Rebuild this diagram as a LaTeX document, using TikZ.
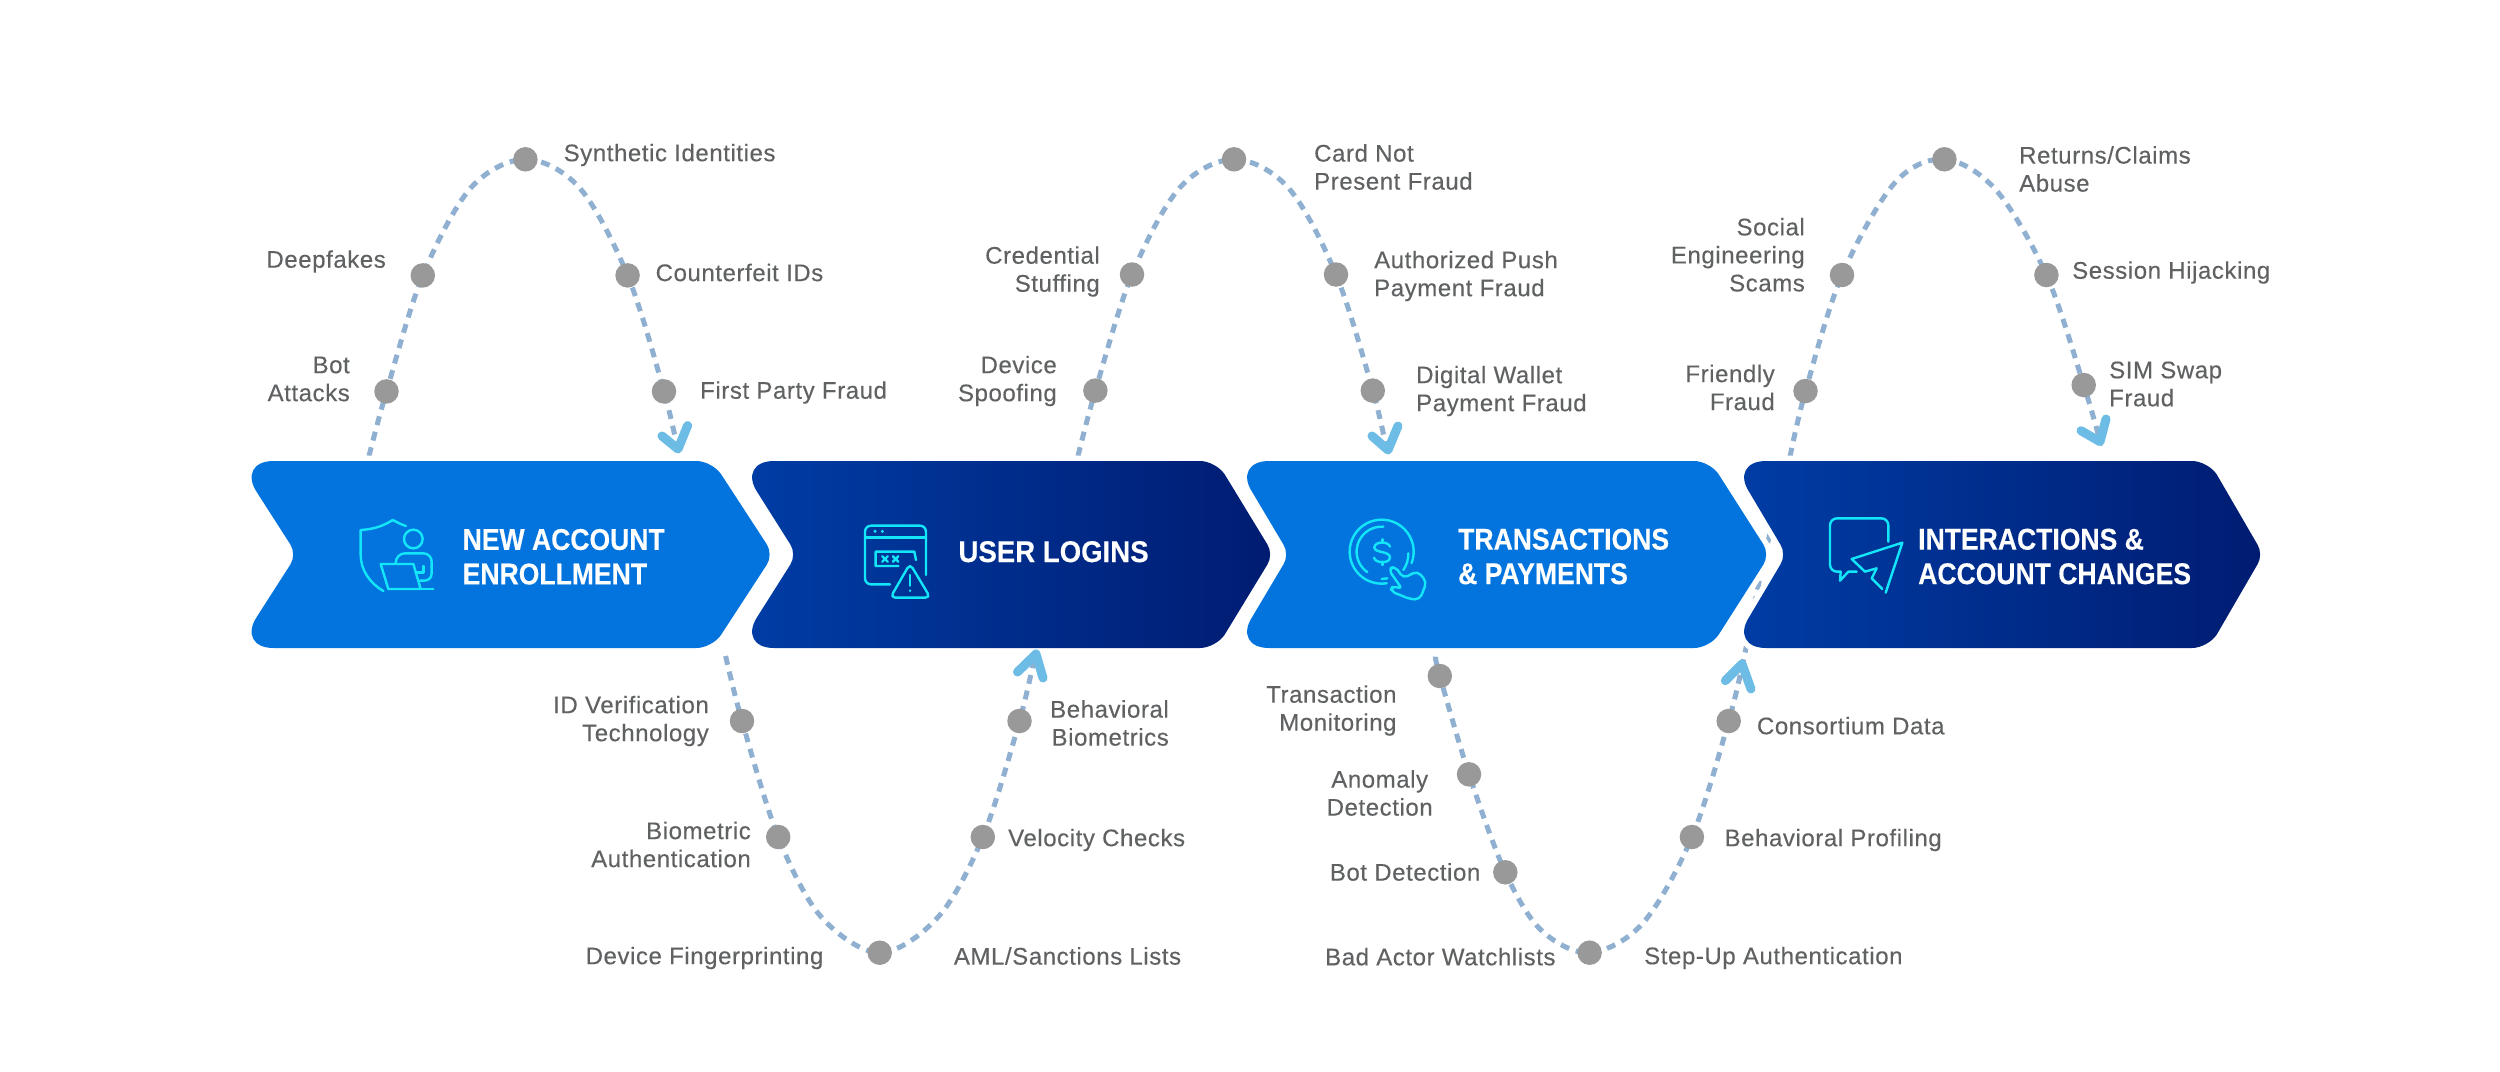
\documentclass[tikz,border=0pt]{standalone}
\usepackage{fontspec}
\usetikzlibrary{backgrounds}
\newfontfamily\lblfont{Liberation Sans}[FakeBold=0.25,LetterSpace=2.4]
\newfontfamily\hdfont{Liberation Sans Bold}[FakeStretch=0.885,FakeBold=0.2]
\newfontfamily\hdwide{Liberation Sans Bold}[FakeStretch=0.92,FakeBold=0.2]
\definecolor{txtgray}{HTML}{5F6163}
\definecolor{dotgray}{HTML}{999999}
\definecolor{dashblue}{HTML}{8FB0D0}
\definecolor{arrowblue}{HTML}{6CBCE6}
\definecolor{chevblue}{HTML}{0374DD}
\definecolor{navyl}{HTML}{003DA5}
\definecolor{navyr}{HTML}{001C72}
\definecolor{iconcyan}{HTML}{14E6FA}
\tikzset{
  dotn/.style={circle,fill=dotgray,minimum size=24.5pt,inner sep=0pt},
  lbl/.style={font=\lblfont\fontsize{24}{28}\selectfont,text=txtgray,inner sep=0pt},
  lbll/.style={lbl,anchor=west,align=left},
  lblr/.style={lbl,anchor=east,align=right},
  lblc/.style={lbl,anchor=center,align=center},
  hd/.style={font=\hdfont\fontsize{30}{34.5}\selectfont,text=white,inner sep=0pt,anchor=west,align=left},
  dashcurve/.style={draw=dashblue,line width=5pt,dash pattern=on 9pt off 7pt},
  arrowv/.style={draw=arrowblue,line width=9pt,line cap=round,line join=round},
  iconline/.style={draw=iconcyan,line width=2.4pt,line cap=round,line join=round},
  halo/.style={draw=white,line width=11pt}
}
% #1 top-left corner x, #2 notch x, #3 shoulder x, #4 tip x
\newcommand{\chevpath}[4]{(#1+37,461) -- (#3-16,461)
  .. controls (#3-7.2,461) and (#3+3.9,467) .. (#3+8.7,474.4)
  -- (#4-6.6,544.5) .. controls (#4-3,550) and (#4-3,559) .. (#4-6.6,564.5)
  -- (#3+8.7,634.6) .. controls (#3+3.9,642) and (#3-7.2,648) .. (#3-16,648)
  -- (#1+37,648) .. controls (#1+16.7,648) and (#1+9.1,634.1) .. (#1+20.2,617)
  -- (#2-6.6,564.5) .. controls (#2-3,559) and (#2-3,550) .. (#2-6.6,544.5)
  -- (#1+20.2,492) .. controls (#1+9.1,474.9) and (#1+16.7,461) .. (#1+37,461) -- cycle}
\begin{document}
\begin{tikzpicture}[x=1pt,y=-1pt]
\useasboundingbox (0,0) rectangle (2500,1071);

% ---- dots
\node[dotn] (a1) at (386.5,391.4) {};
\node[dotn] (a2) at (422.8,275.4) {};
\node[dotn] (a3) at (525.4,159.3) {};
\node[dotn] (a4) at (627.6,275.4) {};
\node[dotn] (a5) at (664,391.4) {};

\node[dotn] (b1) at (742,721) {};
\node[dotn] (b2) at (778.2,837) {};
\node[dotn] (b3) at (879.7,952.7) {};
\node[dotn] (b4) at (982.8,837) {};
\node[dotn] (b5) at (1019.5,721) {};

\node[dotn] (c1) at (1095.4,390.6) {};
\node[dotn] (c2) at (1132,274.5) {};
\node[dotn] (c3) at (1234,159.3) {};
\node[dotn] (c4) at (1336,274.5) {};
\node[dotn] (c5) at (1372.8,390.6) {};

\node[dotn] (d1) at (1439.8,676) {};
\node[dotn] (d2) at (1469,774.3) {};
\node[dotn] (d3) at (1505.3,872.3) {};
\node[dotn] (d4) at (1589.6,952.7) {};
\node[dotn] (d5) at (1691.9,837) {};
\node[dotn] (d6) at (1728.7,721) {};

\node[dotn] (e1) at (1805.5,391) {};
\node[dotn] (e2) at (1842,275) {};
\node[dotn] (e3) at (1944.4,159.3) {};
\node[dotn] (e4) at (2046.4,275) {};
\node[dotn] (e5) at (2083.7,385) {};

% ---- free ends
\coordinate (a0) at (369,456);
\coordinate (a6) at (679,456);
\coordinate (b0) at (725.6,656);
\coordinate (b6) at (1036.5,648);
\coordinate (c0) at (1078,456);
\coordinate (c6) at (1388,456);
\coordinate (d0) at (1435.5,656.7);
\coordinate (d7) at (1772,525);
\coordinate (e0) at (1790,456.7);
\coordinate (e6) at (2100,441);

% ---- dashed curves and chevrons behind
\begin{scope}[on background layer]
\fill[white] (0,0) rectangle (2500,1071);
\draw[dashcurve] plot[smooth,tension=0.55] coordinates {(a0) (a1.center) (a2.center) (470.7,188) (a3.center) (579.7,188) (a4.center) (a5.center) (a6)};
\draw[dashcurve] plot[smooth,tension=0.55] coordinates {(b0) (b1.center) (b2.center) (821,916.7) (b3.center) (938.4,916.7) (b4.center) (b5.center) (b6)};
\draw[dashcurve] plot[smooth,tension=0.55] coordinates {(c0) (c1.center) (c2.center) (1179.5,188) (c3.center) (1288.5,188) (c4.center) (c5.center) (c6)};
\draw[dashcurve] plot[smooth,tension=0.55] coordinates {(d0) (d1.center) (d2.center) (d3.center) (1541,930) (d4.center) (1643,923) (d5.center) (d6.center) (1746,648) (1761,572) (d7)};
\draw[dashcurve] plot[smooth,tension=0.55] coordinates {(e0) (e1.center) (e2.center) (1894.6,183) (e3.center) (1996,190) (e4.center) (e5.center) (e6)};

\path[halo] \chevpath{236.5}{297}{712.5}{773.5};
\path[halo] \chevpath{737}{797}{1216}{1274};
\path[halo] \chevpath{1232}{1290}{1710}{1770};
\path[halo] \chevpath{1729}{1787}{2208}{2264};
\fill[chevblue] \chevpath{236.5}{297}{712.5}{773.5};
\shade[left color=navyl,right color=navyr] \chevpath{737}{797}{1216}{1274};
\fill[chevblue] \chevpath{1232}{1290}{1710}{1770};
\shade[left color=navyl,right color=navyr] \chevpath{1729}{1787}{2208}{2264};
\end{scope}

% ---- arrowheads
\coordinate (ah1a) at (662,436); \coordinate (ah1t) at (678,449); \coordinate (ah1b) at (687.6,425.6);
\coordinate (ah2a) at (1017.5,672); \coordinate (ah2t) at (1036,654); \coordinate (ah2b) at (1043,678);
\coordinate (ah3a) at (1372,436); \coordinate (ah3t) at (1388,450); \coordinate (ah3b) at (1398,426);
\coordinate (ah4a) at (1725.3,680.7); \coordinate (ah4t) at (1742,664); \coordinate (ah4b) at (1751,689);
\coordinate (ah5a) at (2081,430.7); \coordinate (ah5t) at (2100,441.7); \coordinate (ah5b) at (2106,419);
\draw[arrowv] (ah1a) -- (ah1t) -- (ah1b);
\draw[arrowv] (ah2a) -- (ah2t) -- (ah2b);
\draw[arrowv] (ah3a) -- (ah3t) -- (ah3b);
\draw[arrowv] (ah4a) -- (ah4t) -- (ah4b);
\draw[arrowv] (ah5a) -- (ah5t) -- (ah5b);

% ---- labels
\node[lbll] (la3) at (563.5,155) {Synthetic Identities};
\node[lblr] (la2) at (386,261.5) {Deepfakes};
\node[lbll] (la4) at (655.5,272.5) {Counterfeit IDs};
\node[lblr] (la1) at (350,379) {Bot\\Attacks};
\node[lbll] (la5) at (700,392.5) {First Party Fraud};

\node[lblr] (lb1) at (709,721) {ID Verification\\Technology};
\node[lblr] (lb2) at (751,844.5) {Biometric\hspace{5.5pt}\\Authentication};
\node[lblr] (lb3) at (823.6,958) {Device Fingerprinting};
\node[lbll] (lb4) at (953.7,956) {AML/Sanctions Lists};
\node[lbll] (lb5) at (1008,840) {Velocity Checks};
\node[lblr] (lb6) at (1169,723) {Behavioral\\Biometrics};

\node[lblr] (lc1) at (1057,381) {Device\\Spoofing};
\node[lblr] (lc2) at (1100,271.5) {Credential\\Stuffing};
\node[lbll] (lc3) at (1314,167) {Card Not\\Present Fraud};
\node[lbll] (lc4) at (1374,276) {Authorized Push\\Payment Fraud};
\node[lbll] (lc5) at (1416,391) {Digital Wallet\\Payment Fraud};

\node[lblr] (ld1) at (1396.7,710.5) {Transaction\\Monitoring};
\node[lblc] (ld2) at (1379.7,793) {Anomaly\\Detection};
\node[lblr] (ld3) at (1480.5,872) {Bot Detection};
\node[lblr] (ld4) at (1555.7,956.7) {Bad Actor Watchlists};
\node[lbll] (ld5) at (1644,958) {Step-Up Authentication};
\node[lbll] (ld6) at (1724.4,840) {Behavioral Profiling};
\node[lbll] (ld7) at (1756.8,725.7) {Consortium Data};

\node[lblr] (le1) at (1775,387.5) {Friendly\\Fraud};
\node[lblr] (le2) at (1805,254.8) {Social\\Engineering\\Scams};
\node[lbll] (le3) at (2019,169) {Returns/Claims\\Abuse};
\node[lbll] (le4) at (2072,272.5) {Session Hijacking};
\node[lbll] (le5) at (2109,384) {SIM Swap\\Fraud};

% ---- chevron headings
\node[hd] (h1) at (462.5,556.8) {NEW ACCOUNT\\ENROLLMENT};
\node[hd,font=\hdwide\fontsize{30}{34.5}\selectfont] (h2) at (958.3,551.7) {USER LOGINS};
\node[hd] (h3) at (1458,556.5) {TRANSACTIONS\\\&\ PAYMENTS};
\node[hd] (h4) at (1918,556.5) {INTERACTIONS \&\\ACCOUNT CHANGES};

% ---- icon 1: shield, person, laptop
\begin{scope}[shift={(350,510)},x=0.3333pt,y=-0.3333pt,iconline]
\draw (168,48) .. controls (150,42) and (140,36) .. (128,30) .. controls (100,48) and (70,58) .. (32,60) -- (32,135) .. controls (32,180) and (60,220) .. (100,243);
\draw (190,87) circle[radius=28];
\draw (137,160) .. controls (137,142) and (150,130) .. (165,130) -- (220,130) .. controls (235,130) and (245,142) .. (245,155) -- (245,190) .. controls (245,204) and (235,212) .. (222,212) -- (210,212);
\draw (220,168) -- (220,188) -- (200,188);
\draw (92,162) -- (190,162) -- (212,237) -- (115,237) -- cycle;
\draw (212,237) -- (250,237);
\end{scope}

% ---- icon 2: window with warning
\begin{scope}[shift={(855,515)},x=0.3333pt,y=-0.3333pt,iconline]
\draw[rounded corners=6pt] (105,208) -- (30,208) -- (30,32) -- (213,32) -- (213,180);
\draw (30,67) -- (213,67);
\fill[iconcyan] (60,49) circle[radius=5] (82,49) circle[radius=5];
\draw (130,153) -- (62,153) -- (62,110) -- (178,110) -- (183,135);
\foreach \cx in {90,122}{\draw (\cx-8,124) -- (\cx+8,140) (\cx+8,124) -- (\cx-8,140);}
\draw[rounded corners=5pt] (165,146) -- (226,248) -- (106,248) -- cycle;
\draw (165,180) -- (165,212);
\fill[iconcyan] (165,227) circle[radius=4];
\end{scope}

% ---- icon 3: coin and pointer
\begin{scope}[shift={(1340,510)},x=0.3333pt,y=-0.3333pt,iconline]
\draw (214.6,159.4) arc[start angle=21,end angle=-279,radius=96];
\draw (130,50) arc[start angle=-86,end angle=-235,radius=75];
\draw (205,130) .. controls (205,150) and (200,165) .. (190,180);
\draw (150,110) .. controls (145,93) and (105,93) .. (103,112) .. controls (103,130) and (150,122) .. (150,143) .. controls (148,162) and (105,160) .. (102,143);
\draw (127,88) -- (127,98) (127,155) -- (127,165);
\draw (125,207) -- (142,205);
\draw[rounded corners=5pt] (187,238) -- (145,178) -- (165,168) -- (190,205) -- (232,183) -- (260,215) -- (240,268) -- (212,268) -- (150,243) -- (160,226) -- cycle;
\end{scope}

% ---- icon 4: speech bubble and paper plane
\begin{scope}[shift={(1820,510)},x=0.3333pt,y=-0.3333pt,iconline]
\draw[rounded corners=7pt] (205,95) -- (205,25) -- (30,25) -- (30,185) -- (62,185);
\draw (62,185) -- (60,212) -- (85,185) -- (110,185);
\draw (187,237) -- (155,205) -- (170,175) -- (135,185) -- (95,147) -- (247,98) -- (197,248);
\end{scope}
\end{tikzpicture}
\end{document}
